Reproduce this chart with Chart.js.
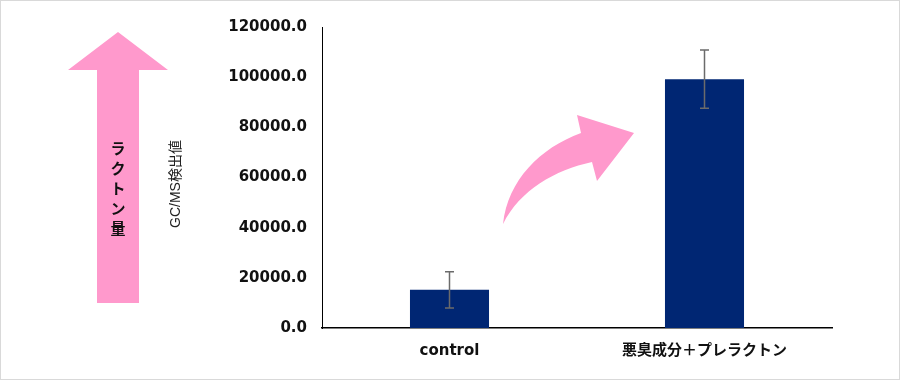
<!DOCTYPE html>
<html>
<head>
<meta charset="utf-8">
<script src="https://cdn.jsdelivr.net/npm/chart.js@4/dist/chart.umd.min.js"></script>
<style>
  body { margin: 0; background: #fff; }
  canvas { display: block; }
</style>
</head>
<body>
<canvas id="lactoneChart" width="900" height="380"></canvas>
<script>
const categories = ["control", "悪臭成分＋プレラクトン"];
const values = [15200, 99200];
const errors = [7200, 11600];
const yTicks = [0, 20000, 40000, 60000, 80000, 100000, 120000];

const tickFont = { family: "'DejaVu Sans', 'Noto Sans CJK JP', sans-serif", size: 15, weight: "bold" };

// error bars + the pink arrows / side labels
const decorations = {
    id: "decorations",
    afterDatasetsDraw(chart) {
        const ctx = chart.ctx;
        const x = chart.scales.x;
        const y = chart.scales.y;

        ctx.save();
        ctx.strokeStyle = "#6b6b6b";
        ctx.lineWidth = 1.5;
        values.forEach(function (v, i) {
            const cx = x.getPixelForValue(i);
            const top = y.getPixelForValue(v + errors[i]);
            const bot = y.getPixelForValue(v - errors[i]);
            ctx.beginPath();
            ctx.moveTo(cx, top); ctx.lineTo(cx, bot);
            ctx.moveTo(cx - 4.5, top); ctx.lineTo(cx + 4.5, top);
            ctx.moveTo(cx - 4.5, bot); ctx.lineTo(cx + 4.5, bot);
            ctx.stroke();
        });
        ctx.restore();
    },
    afterDraw(chart) {
        const ctx = chart.ctx;
        ctx.save();

        // outer frame
        ctx.strokeStyle = "#d9d9d9";
        ctx.lineWidth = 1;
        ctx.strokeRect(0.5, 0.5, 899, 379);

        ctx.fillStyle = "#ff99cc";
        // big up arrow
        ctx.beginPath();
        ctx.moveTo(118, 32);
        ctx.lineTo(168, 70);
        ctx.lineTo(139, 70);
        ctx.lineTo(139, 303);
        ctx.lineTo(97, 303);
        ctx.lineTo(97, 70);
        ctx.lineTo(68, 70);
        ctx.closePath();
        ctx.fill();

        // curved arrow
        ctx.beginPath();
        ctx.moveTo(503, 224);
        ctx.bezierCurveTo(508, 180, 540, 148, 581, 133);
        ctx.lineTo(577, 115);
        ctx.lineTo(634, 133);
        ctx.lineTo(597, 181);
        ctx.lineTo(592, 162);
        ctx.bezierCurveTo(555, 170, 520, 190, 503, 224);
        ctx.closePath();
        ctx.fill();

        // vertical label in the arrow
        ctx.fillStyle = "#111";
        ctx.font = "bold 15px 'Noto Sans CJK JP', sans-serif";
        ctx.textAlign = "center";
        ctx.textBaseline = "middle";
        const chars = ["ラ", "ク", "ト", "ン", "量"];
        chars.forEach(function (c, i) {
            ctx.fillText(c, 118, 148 + i * 20);
        });

        // y axis title
        ctx.translate(176, 184);
        ctx.rotate(-Math.PI / 2);
        ctx.fillStyle = "#222";
        ctx.font = "14px 'Liberation Sans', 'Noto Sans CJK JP', sans-serif";
        ctx.fillText("GC/MS検出値", 0, 0);
        ctx.restore();
    }
};

new Chart(document.getElementById("lactoneChart"), {
    type: "bar",
    data: {
        labels: categories,
        datasets: [{
            data: values,
            backgroundColor: "#002673",
            categoryPercentage: 1.0,
            barPercentage: 0.31
        }]
    },
    options: {
        responsive: false,
        animation: false,
        layout: { padding: { top: 27, right: 68, bottom: 0, left: 0 } },
        plugins: {
            legend: { display: false },
            tooltip: { enabled: false }
        },
        scales: {
            x: {
                grid: { display: false, drawTicks: false },
                border: { display: true, color: "#000", width: 1.5 },
                ticks: { color: "#111", font: tickFont, padding: 14 },
                afterFit: function (scale) { scale.height = 52; }
            },
            y: {
                min: 0,
                max: 120000,
                afterBuildTicks: function (scale) {
                    scale.ticks = yTicks.map(v => ({ value: v }));
                },
                grid: { display: false, drawTicks: false },
                border: { display: true, color: "#000", width: 1 },
                ticks: {
                    color: "#111",
                    font: tickFont,
                    padding: 15,
                    callback: v => v.toFixed(1)
                },
                afterFit: function (scale) { scale.width = 322; }
            }
        }
    },
    plugins: [decorations]
});
</script>
</body>
</html>
